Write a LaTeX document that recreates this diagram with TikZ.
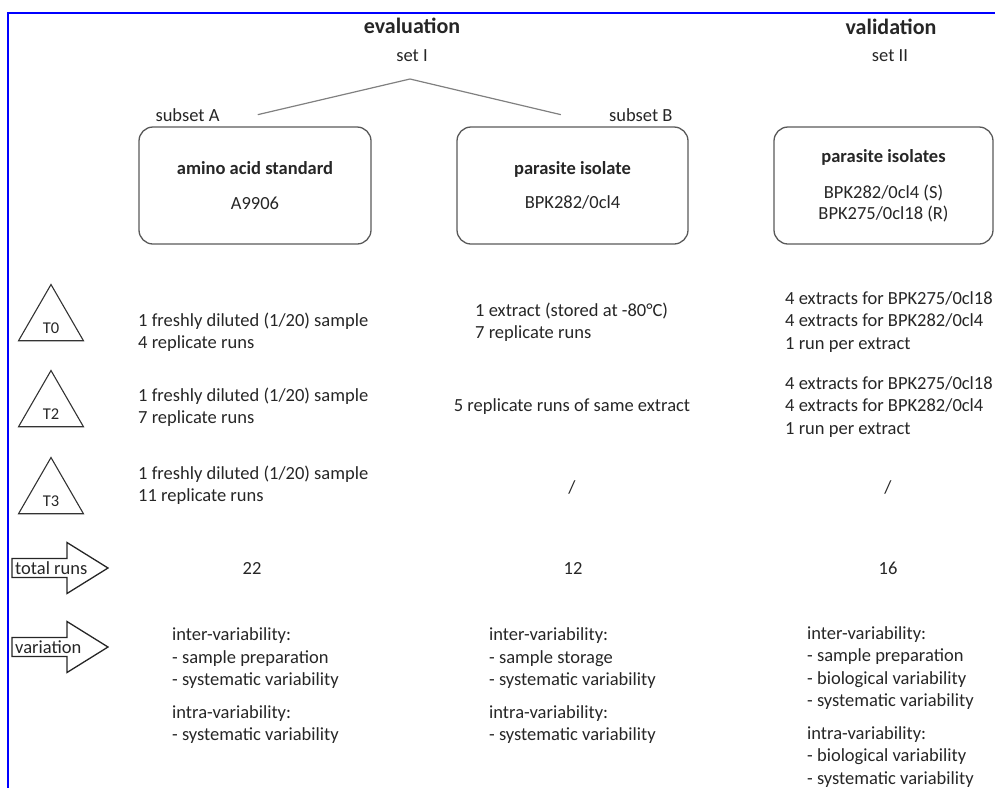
\documentclass[tikz,border=0pt]{standalone}
\usepackage{fontspec}
\setmainfont{Carlito}
\usetikzlibrary{positioning,shapes.geometric}

\begin{document}
\begin{tikzpicture}[
    x=1pt, y=-1pt,
    font=\fontsize{18.5}{22.5}\selectfont, text=black!85,
    box/.style={draw=black!65, line width=1.3pt, rounded corners=14pt, minimum height=117pt, align=center, inner sep=0pt},
    headline/.style={font=\fontsize{22}{26}\selectfont\bfseries},
    tri/.style={draw=black!80, line width=1.1pt, regular polygon, regular polygon sides=3, minimum size=75pt, inner sep=0pt, text height=22pt, text depth=0pt, font=\fontsize{16.5}{20}\selectfont},
    cell/.style={align=left, anchor=west, inner sep=0pt},
    tag/.style={inner sep=0pt},
    forkline/.style={draw=black!50, line width=1.2pt},
    arrowbox/.style={draw=black!85, line width=1.3pt, line join=miter},
    bluerule/.style={draw=blue, line width=2.2pt},
]
\useasboundingbox (0,0) rectangle (995,788);
\draw[bluerule] (995,13) -- (8,13) -- (8,788);

% headings
\node[headline] (eval) at (412,26) {evaluation};
\node (setI) at (412,56) {set I};
\node[headline] (valid) at (891,27) {validation};
\node (setII) at (890,56) {set II};

% sample boxes
\node[box, minimum width=232pt] (boxA) at (255,185.5) {\textbf{amino acid standard}\\[12pt]A9906};
\node[box, minimum width=231pt] (boxB) at (572.5,185.5) {\textbf{parasite isolate}\\[12pt]BPK282/0cl4};
\node[box, minimum width=219pt] (boxC) at (883.5,185.5) {\textbf{parasite isolates}\\[14pt]BPK282/0cl4 (S)\\[-2pt]BPK275/0cl18 (R)};
\node[tag, above right=5pt and 17pt of boxA.north west] (subA) {subset A};
\node[tag, above left=5pt and 16pt of boxB.north east] (subB) {subset B};

\coordinate (apex) at (410,79);
\draw[forkline] ([xshift=38pt]subA.east) -- (apex) -- ([xshift=-48pt]subB.west);

% time points
\node[tri] (t0) at (51,322) {T0};
\node[tri] (t2) at (51,408) {T2};
\node[tri] (t3) at (51,495) {T3};

\node[cell] (a0) at (138,332) {1 freshly diluted (1/20) sample\\4 replicate runs};
\node[cell] (a2) at (138,407) {1 freshly diluted (1/20) sample\\7 replicate runs};
\node[cell] (a3) at (138,485) {1 freshly diluted (1/20) sample\\11 replicate runs};

\node[cell] (b0) at (475,322) {1 extract (stored at -80°C)\\7 replicate runs};
\node[tag] (b2) at (572,407) {5 replicate runs of same extract};
\node[tag] (b3) at (572,487) {/};

\node[cell] (c0) at (785,322) {4 extracts for BPK275/0cl18\\4 extracts for BPK282/0cl4\\1 run per extract};
\node[cell] (c2) at (785,407) {4 extracts for BPK275/0cl18\\4 extracts for BPK282/0cl4\\1 run per extract};
\node[tag] (c3) at (888,487) {/};

% row arrows
\foreach \yc/\nm/\txt in {568/runs/total runs, 647/vary/variation}{
  \draw[arrowbox] (12,\yc-9.5) -- (67,\yc-9.5) -- (67,\yc-25.5) -- (108,\yc)
    -- (67,\yc+25.5) -- (67,\yc+9.5) -- (12,\yc+9.5) -- cycle;
  \node[tag, anchor=west] (\nm) at (15,\yc) {\txt};
}

\node[tag] (totA) at (252,568) {22};
\node[tag] (totB) at (573,568) {12};
\node[tag] (totC) at (888,568) {16};

\node[cell] (varA) at (172,686) {inter-variability:\\- sample preparation\\- systematic variability\\[10pt]intra-variability:\\- systematic variability};
\node[cell] (varB) at (489,686) {inter-variability:\\- sample storage\\- systematic variability\\[10pt]intra-variability:\\- systematic variability};
\node[cell] (varC) at (807,707) {inter-variability:\\- sample preparation\\- biological variability\\- systematic variability\\[10pt]intra-variability:\\- biological variability\\- systematic variability};
\end{tikzpicture}
\end{document}
